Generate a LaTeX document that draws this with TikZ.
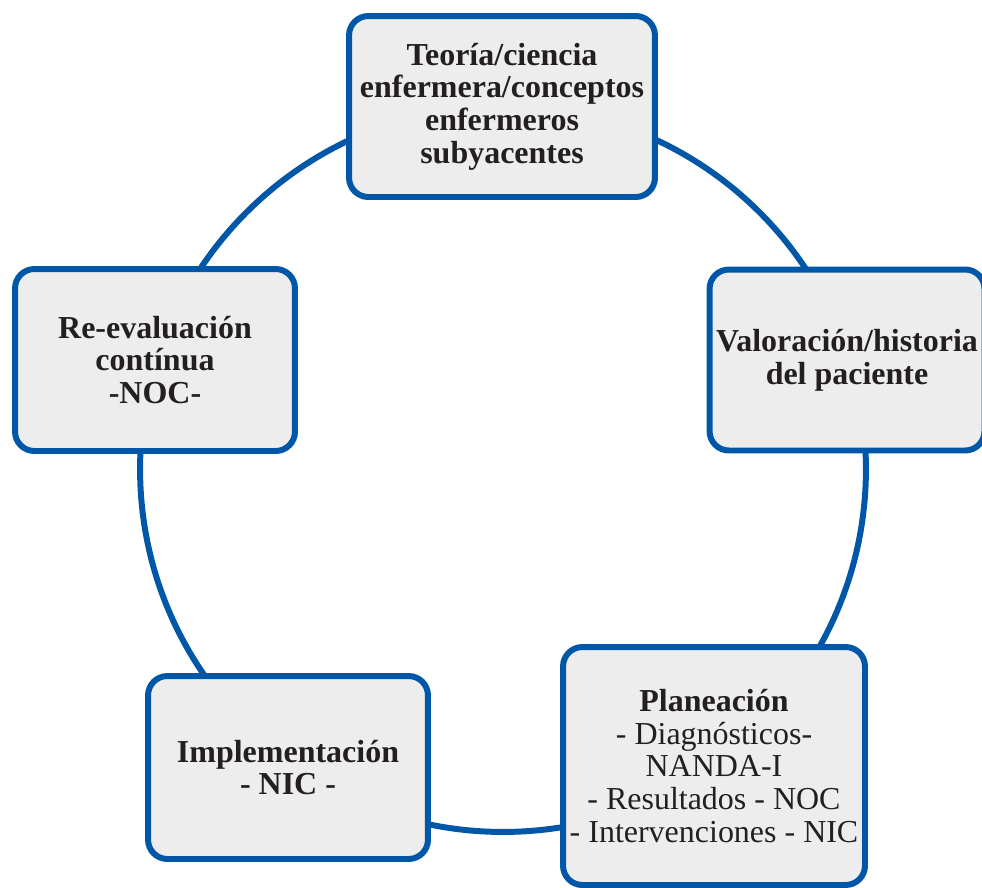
\documentclass[tikz,border=0pt]{standalone}
\usepackage{fontspec}
\setmainfont{Liberation Serif}
\definecolor{azul}{HTML}{0057A8}
\definecolor{gris}{HTML}{EDEDED}
\definecolor{texto}{HTML}{231F20}
\begin{document}
\begin{tikzpicture}[x=0.02cm,y=-0.02cm,
	etapa/.style={draw=azul,line width=3.4pt,fill=gris,rounded corners=11pt,
		align=center,text=texto,inner sep=0pt,
		font=\fontsize{18.2}{18.6}\selectfont\bfseries},
	ciclo/.style={draw=azul,line width=3.4pt}]

\useasboundingbox (0,0) rectangle (982,887);
\clip (0,0) rectangle (982,887);

% circulo del proceso
\coordinate (centro) at (503,469);
\draw[ciclo] (centro) circle (7.26cm);

% etapas
\node[etapa,minimum width=6.12cm,minimum height=3.62cm] (teoria) at (502,106.5)
	{Teoría/ciencia\\enfermera/conceptos\\enfermeros\\subyacentes};
\node[etapa,minimum width=5.5cm,minimum height=3.62cm] (valoracion) at (847,360)
	{Valoración/historia\\del paciente};
\node[etapa,minimum width=6.04cm,minimum height=4.76cm,
	font=\fontsize{18.2}{18.6}\selectfont] (planeacion) at (714,766)
	{\textbf{Planeación}\\- Diagnósticos-\\NANDA-I\\- Resultados - NOC\\- Intervenciones - NIC};
\node[etapa,minimum width=5.6cm,minimum height=3.66cm] (implementacion) at (288,767.5)
	{Implementación\\- NIC -};
\node[etapa,minimum width=5.6cm,minimum height=3.64cm] (reevaluacion) at (155,360)
	{Re-evaluación\\contínua\\-NOC-};

\end{tikzpicture}
\end{document}
